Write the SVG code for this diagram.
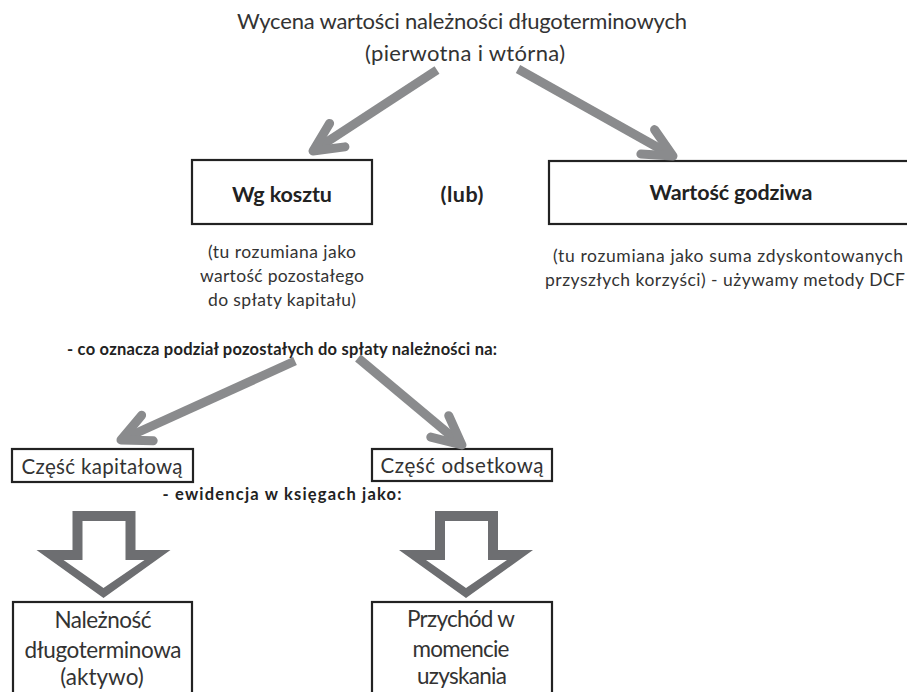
<svg xmlns="http://www.w3.org/2000/svg" width="907" height="692" viewBox="0 0 907 692">
  <defs>
    <marker id="chev" markerUnits="userSpaceOnUse" orient="auto" refX="0" refY="0" overflow="visible">
      <path d="M -29,-14 L 0,0 L -29,14" fill="none" stroke="#8a8b8d" stroke-width="9" stroke-linecap="round" stroke-linejoin="round"/>
    </marker>
    <path id="blk" fill-rule="evenodd" d="M -31,0 L 32,0 L 32,39 L 67,39 L 0,87 L -67,39 L -31,39 Z M -21,10 L 22,10 L 22,49 L 41,49 L 0,77 L -40,49 L -21,49 Z"/>
  </defs>
  <style>
    text { font-family: Lato, "Liberation Sans", sans-serif; fill: #333333; text-anchor: middle; }
    .b { font-weight: bold; fill: #222222; }
    .box { fill: #ffffff; stroke: #222222; stroke-width: 2.2; }
    .ln { fill: none; stroke: #8a8b8d; stroke-width: 9; marker-end: url(#chev); }
    .blk { fill: #6d6e71; }
  </style>
  <rect width="907" height="692" fill="#ffffff"/>

  <g id="title">
    <text x="462" y="29" font-size="22" textLength="450">Wycena wartości należności długoterminowych</text>
    <text x="465" y="61" font-size="22" textLength="200">(pierwotna i wtórna)</text>
  </g>

  <g id="wg-kosztu">
    <rect class="box" x="192" y="160" width="180" height="64"/>
    <text class="b" x="282" y="202" font-size="21.5" textLength="100">Wg kosztu</text>
  </g>

  <g id="lub">
    <text class="b" x="462" y="202" font-size="21.5" textLength="43">(lub)</text>
  </g>

  <g id="wartosc-godziwa">
    <rect class="box" x="549" y="161" width="380" height="63"/>
    <text class="b" x="731" y="200" font-size="21.5" textLength="163">Wartość godziwa</text>
  </g>

  <g id="opis-koszt">
    <text x="282" y="258" font-size="17.5" textLength="148">(tu rozumiana jako</text>
    <text x="282" y="282" font-size="17.5" textLength="164">wartość pozostałego</text>
    <text x="282" y="306" font-size="17.5" textLength="148">do spłaty kapitału)</text>
  </g>

  <g id="opis-godziwa">
    <text x="728" y="262" font-size="17.5" textLength="350">(tu rozumiana jako suma zdyskontowanych</text>
    <text x="725" y="286" font-size="17.5" textLength="360">przyszłych korzyści) - używamy metody DCF</text>
  </g>

  <g id="podzial">
    <text class="b" x="282" y="355" font-size="16.5" textLength="430">- co oznacza podział pozostałych do spłaty należności na:</text>
  </g>

  <g id="czesc-kapitalowa">
    <rect class="box" x="12" y="449" width="181" height="33"/>
    <text x="102" y="474" font-size="20.5" textLength="161">Część kapitałową</text>
  </g>

  <g id="czesc-odsetkowa">
    <rect class="box" x="372" y="449" width="180" height="32"/>
    <text x="462" y="473" font-size="20.5" textLength="163">Część odsetkową</text>
  </g>

  <g id="ewidencja">
    <text class="b" x="282" y="500" font-size="16.5" textLength="239">- ewidencja w księgach jako:</text>
  </g>

  <g id="naleznosc">
    <rect class="box" x="13" y="602" width="179" height="100"/>
    <text x="103" y="628" font-size="22.5" textLength="97">Należność</text>
    <text x="103" y="658" font-size="22.5" textLength="157">długoterminowa</text>
    <text x="102" y="685" font-size="22.5">(aktywo)</text>
  </g>

  <g id="przychod">
    <rect class="box" x="372" y="602" width="180" height="100"/>
    <text x="461" y="627" font-size="22.5" textLength="108">Przychód w</text>
    <text x="461" y="657" font-size="22.5" textLength="97">momencie</text>
    <text x="462" y="684" font-size="22.5" textLength="90">uzyskania</text>
  </g>

  <g id="connectors">
    <line class="ln" x1="437" y1="70" x2="313" y2="151"/>
    <line class="ln" x1="518" y1="69" x2="673" y2="156"/>
    <line class="ln" x1="295" y1="361" x2="121" y2="440"/>
    <line class="ln" x1="358" y1="358" x2="462" y2="445"/>
    <use class="blk" href="#blk" x="103.5" y="511"/>
    <use class="blk" href="#blk" x="466" y="511"/>
  </g>
</svg>
